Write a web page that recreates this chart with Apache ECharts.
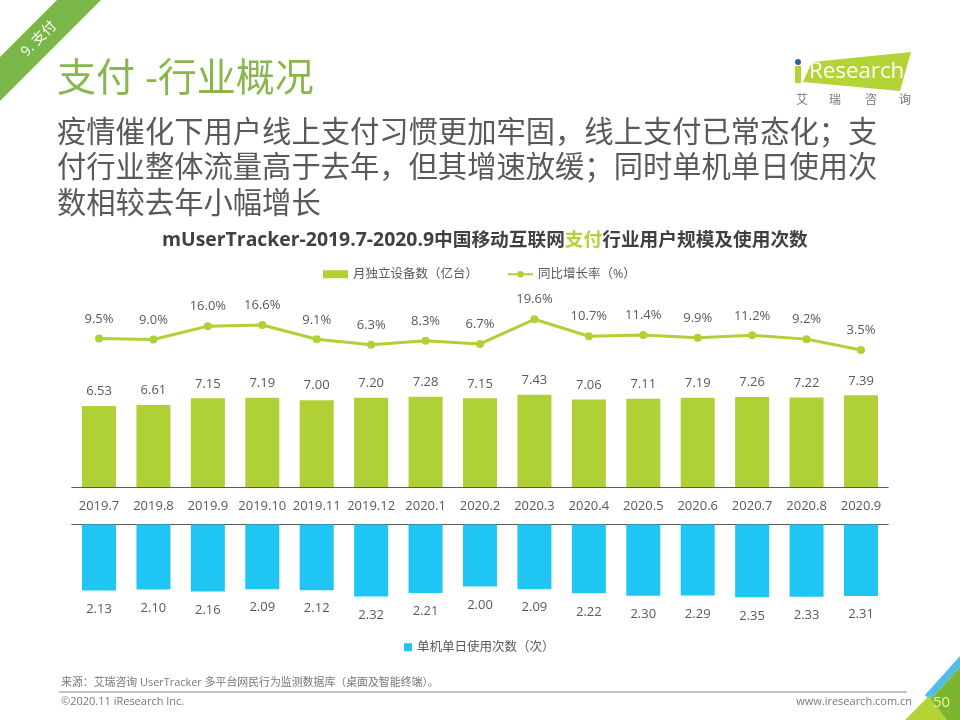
<!DOCTYPE html>
<html>
<head>
    <meta charset="UTF-8">
    <title>支付-行业概况</title>
    <script src="https://cdn.jsdelivr.net/npm/echarts@6/dist/echarts.min.js"></script>
    <style>
        html, body { margin: 0; padding: 0; background: #fff; }
        #main { width: 960px; height: 720px; }
    </style>
</head>
<body>
    <div id="main"></div>
    <script>
        var months = ['2019.7', '2019.8', '2019.9', '2019.10', '2019.11', '2019.12', '2020.1', '2020.2', '2020.3', '2020.4', '2020.5', '2020.6', '2020.7', '2020.8', '2020.9'];
        var devices = [6.53, 6.61, 7.15, 7.19, 7.00, 7.20, 7.28, 7.15, 7.43, 7.06, 7.11, 7.19, 7.26, 7.22, 7.39];
        var growth = [9.5, 9.0, 16.0, 16.6, 9.1, 6.3, 8.3, 6.7, 19.6, 10.7, 11.4, 9.9, 11.2, 9.2, 3.5];
        var usage = [2.13, 2.10, 2.16, 2.09, 2.12, 2.32, 2.21, 2.00, 2.09, 2.22, 2.30, 2.29, 2.35, 2.33, 2.31];

        var FONT = '"Open Sans", "Noto Sans CJK SC", sans-serif';
        var GREY = '#595959';
        var LIME = '#afd135';
        var BLUE = '#1fc6f4';

        var chart = echarts.init(document.getElementById('main'), null, { renderer: 'canvas' });

        // 页面上的装饰：角标、标题、logo、页脚
        function txt(x, y, text, size, color, extra) {
            var style = { x: x, y: y, text: text, font: size + 'px ' + FONT, fill: color, textVerticalAlign: 'middle' };
            for (var k in extra) style[k] = extra[k];
            return { type: 'text', style: style };
        }
        function poly(points, color) {
            return { type: 'polygon', shape: { points: points }, style: { fill: color } };
        }

        var decorations = [
            poly([[57, 0], [101, 0], [0, 101], [0, 57]], '#7ab648'),
            { type: 'text', x: 39, y: 39, rotation: Math.PI / 4, style: { x: 0, y: 0, text: '9. 支付', font: '14px ' + FONT, fill: '#fff', align: 'center', verticalAlign: 'middle' } },
            txt(57, 80, '支付 -行业概况', 39, '#8ab650'),
            txt(57, 134, '疫情催化下用户线上支付习惯更加牢固，线上支付已常态化；支', 29.3, GREY),
            txt(57, 169, '付行业整体流量高于去年，但其增速放缓；同时单机单日使用次', 29.3, GREY),
            txt(57, 204.5, '数相较去年小幅增长', 29.3, GREY),

            poly([[812, 62], [911, 52], [900, 91], [803, 82]], '#b4d334'),
            { type: 'rect', shape: { x: 795, y: 66, width: 6, height: 17 }, style: { fill: '#b4d334' } },
            { type: 'circle', shape: { cx: 798, cy: 62, r: 3 }, style: { fill: '#2a6496' } },
            txt(809, 72, 'Research', 22.3, '#fff'),
            txt(796, 101, '艾', 12, '#777'),
            txt(829, 101, '瑞', 12, '#777'),
            txt(865, 101, '咨', 12, '#777'),
            txt(899, 101, '询', 12, '#777'),

            txt(61, 683, '来源：艾瑞咨询 UserTracker 多平台网民行为监测数据库（桌面及智能终端）。', 10.9, '#777'),
            { type: 'line', shape: { x1: 59, y1: 692, x2: 907, y2: 692 }, style: { stroke: '#888', lineWidth: 1 } },
            txt(61, 702, '©2020.11 iResearch Inc.', 11, '#777'),
            txt(912, 702, 'www.iresearch.com.cn', 11, '#777', { align: 'right', textAlign: 'right' }),

            poly([[925, 695], [960, 656], [960, 667], [930, 700]], '#4fbde8'),
            poly([[930, 700], [960, 667], [960, 720], [925, 720]], '#7db52f'),
            poly([[905, 720], [929, 696], [947, 720]], '#b4d334'),
            txt(933, 703, '50', 15, '#eef29a')
        ];

        var option = {
            animation: false,
            textStyle: { fontFamily: FONT },
            title: {
                left: 157,
                top: 226,
                text: '{a|mUserTracker-2019.7-2020.9}{c|中国移动互联网}{b|支付}{c|行业用户规模及使用次数}',
                textStyle: {
                    rich: {
                        a: { fontSize: 19.4, fontWeight: 'bold', color: '#404040', fontFamily: FONT },
                        b: { fontSize: 18.7, fontWeight: 'bold', color: '#b4d334', fontFamily: FONT },
                        c: { fontSize: 18.7, fontWeight: 'bold', color: '#404040', fontFamily: FONT }
                    }
                }
            },
            legend: [
                {
                    left: 318,
                    top: 263,
                    itemWidth: 25,
                    itemHeight: 8,
                    itemGap: 29,
                    textStyle: { color: GREY, fontSize: 12.5 },
                    data: [
                        { name: '月独立设备数（亿台）', icon: 'rect' },
                        { name: '同比增长率（%）' }
                    ]
                },
                {
                    left: 399,
                    top: 636,
                    itemWidth: 8,
                    itemHeight: 8,
                    textStyle: { color: GREY, fontSize: 12.5 },
                    data: [{ name: '单机单日使用次数（次）', icon: 'rect' }]
                }
            ],
            grid: [
                { left: 71.8, width: 816.4, top: 318.5, height: 38.2 },
                { left: 71.8, width: 816.4, top: 363, height: 124 },
                { left: 71.8, width: 816.4, top: 524.5, height: 93 }
            ],
            xAxis: [
                { gridIndex: 0, type: 'category', data: months, show: false },
                {
                    gridIndex: 1, type: 'category', data: months,
                    axisTick: { show: false },
                    axisLine: { lineStyle: { color: '#595959', width: 1 } },
                    axisLabel: { color: GREY, fontSize: 13, margin: 13, interval: 0 }
                },
                {
                    gridIndex: 2, type: 'category', data: months, position: 'top',
                    axisTick: { show: false },
                    axisLine: { lineStyle: { color: '#595959', width: 1 } },
                    axisLabel: { show: false }
                }
            ],
            yAxis: [
                { gridIndex: 0, type: 'value', min: 0, max: 20, show: false },
                { gridIndex: 1, type: 'value', min: 0, max: 10, show: false },
                { gridIndex: 2, type: 'value', min: 0, max: 3, inverse: true, show: false }
            ],
            series: [
                {
                    name: '同比增长率（%）',
                    type: 'line',
                    xAxisIndex: 0,
                    yAxisIndex: 0,
                    data: growth,
                    symbol: 'circle',
                    symbolSize: 8,
                    lineStyle: { color: LIME, width: 3 },
                    itemStyle: { color: LIME },
                    label: {
                        show: true, position: 'top', distance: 9, color: GREY, fontSize: 13,
                        formatter: function (p) { return p.value.toFixed(1) + '%'; }
                    }
                },
                {
                    name: '月独立设备数（亿台）',
                    type: 'bar',
                    xAxisIndex: 1,
                    yAxisIndex: 1,
                    data: devices,
                    barWidth: 34,
                    itemStyle: { color: LIME },
                    label: {
                        show: true, position: 'top', distance: 8, color: GREY, fontSize: 13,
                        formatter: function (p) { return p.value.toFixed(2); }
                    }
                },
                {
                    name: '单机单日使用次数（次）',
                    type: 'bar',
                    xAxisIndex: 2,
                    yAxisIndex: 2,
                    data: usage,
                    barWidth: 34,
                    itemStyle: { color: BLUE },
                    label: {
                        show: true, position: 'bottom', distance: 12, color: GREY, fontSize: 13,
                        formatter: function (p) { return p.value.toFixed(2); }
                    }
                }
            ],
            graphic: decorations
        };

        chart.setOption(option);
    </script>
</body>
</html>
